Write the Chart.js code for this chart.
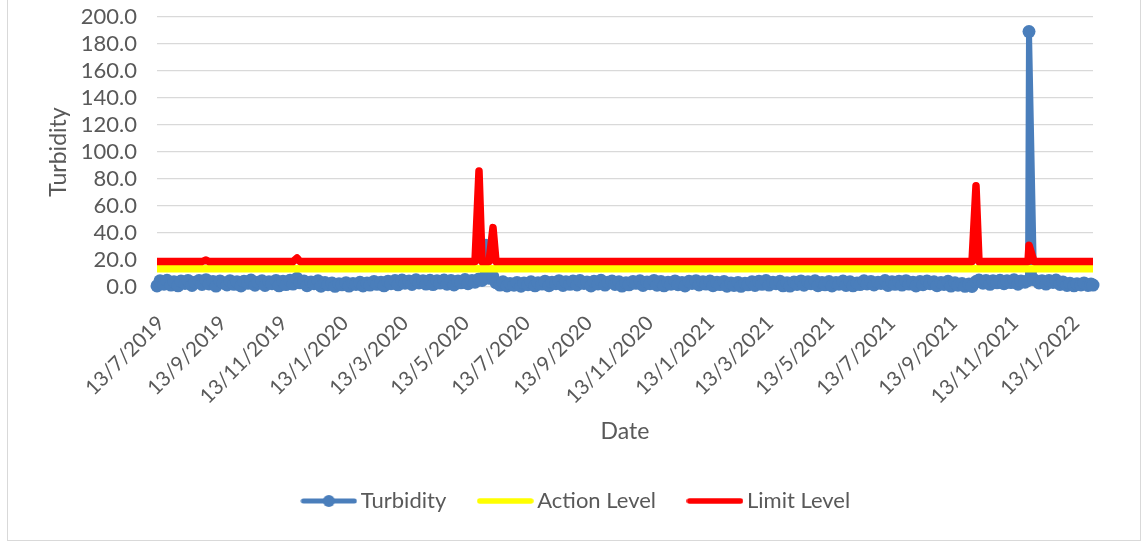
<!DOCTYPE html>
<html>
<head>
<meta charset="utf-8">
<script src="https://cdn.jsdelivr.net/npm/chart.js@4.4.1/dist/chart.umd.min.js"></script>
<style>
  html, body { margin: 0; padding: 0; background: #fff; }
  #wrap { position: relative; width: 1143px; height: 542px; overflow: hidden; }
  #frame { position: absolute; left: 7px; top: -2px; width: 1134px; height: 543px; border: 1px solid #d9d9d9; box-sizing: border-box; }
  canvas { position: absolute; left: 0; top: 0; }
</style>
</head>
<body>
<div id="wrap">
  <div id="frame"></div>
  <canvas id="chart" width="1143" height="542"></canvas>
</div>
<script>
// sample dates (d/m/yyyy)
const dates = [
  '13/7/2019', '16/7/2019', '20/7/2019', '23/7/2019', '27/7/2019', '30/7/2019', '3/8/2019', '6/8/2019', '10/8/2019', '13/8/2019',
  '17/8/2019', '20/8/2019', '24/8/2019', '27/8/2019', '31/8/2019', '3/9/2019', '7/9/2019', '10/9/2019', '14/9/2019', '17/9/2019',
  '21/9/2019', '24/9/2019', '28/9/2019', '1/10/2019', '5/10/2019', '8/10/2019', '12/10/2019', '15/10/2019', '19/10/2019', '22/10/2019',
  '26/10/2019', '29/10/2019', '2/11/2019', '5/11/2019', '9/11/2019', '12/11/2019', '16/11/2019', '19/11/2019', '23/11/2019', '26/11/2019',
  '30/11/2019', '3/12/2019', '7/12/2019', '10/12/2019', '14/12/2019', '17/12/2019', '21/12/2019', '24/12/2019', '28/12/2019', '31/12/2019',
  '4/1/2020', '7/1/2020', '11/1/2020', '14/1/2020', '18/1/2020', '21/1/2020', '25/1/2020', '28/1/2020', '1/2/2020', '4/2/2020',
  '8/2/2020', '11/2/2020', '15/2/2020', '18/2/2020', '22/2/2020', '25/2/2020', '29/2/2020', '3/3/2020', '7/3/2020', '10/3/2020',
  '14/3/2020', '17/3/2020', '21/3/2020', '24/3/2020', '28/3/2020', '31/3/2020', '4/4/2020', '7/4/2020', '11/4/2020', '14/4/2020',
  '18/4/2020', '21/4/2020', '25/4/2020', '28/4/2020', '2/5/2020', '5/5/2020', '9/5/2020', '12/5/2020', '16/5/2020', '19/5/2020',
  '23/5/2020', '26/5/2020', '30/5/2020', '2/6/2020', '6/6/2020', '9/6/2020', '13/6/2020', '16/6/2020', '20/6/2020', '23/6/2020',
  '27/6/2020', '30/6/2020', '4/7/2020', '7/7/2020', '11/7/2020', '14/7/2020', '18/7/2020', '21/7/2020', '25/7/2020', '28/7/2020',
  '1/8/2020', '4/8/2020', '8/8/2020', '11/8/2020', '15/8/2020', '18/8/2020', '22/8/2020', '25/8/2020', '29/8/2020', '1/9/2020',
  '5/9/2020', '8/9/2020', '12/9/2020', '15/9/2020', '19/9/2020', '22/9/2020', '26/9/2020', '29/9/2020', '3/10/2020', '6/10/2020',
  '10/10/2020', '13/10/2020', '17/10/2020', '20/10/2020', '24/10/2020', '27/10/2020', '31/10/2020', '3/11/2020', '7/11/2020', '10/11/2020',
  '14/11/2020', '17/11/2020', '21/11/2020', '24/11/2020', '28/11/2020', '1/12/2020', '5/12/2020', '8/12/2020', '12/12/2020', '15/12/2020',
  '19/12/2020', '22/12/2020', '26/12/2020', '29/12/2020', '2/1/2021', '5/1/2021', '9/1/2021', '12/1/2021', '16/1/2021', '19/1/2021',
  '23/1/2021', '26/1/2021', '30/1/2021', '2/2/2021', '6/2/2021', '9/2/2021', '13/2/2021', '16/2/2021', '20/2/2021', '23/2/2021',
  '27/2/2021', '2/3/2021', '6/3/2021', '9/3/2021', '13/3/2021', '16/3/2021', '20/3/2021', '23/3/2021', '27/3/2021', '30/3/2021',
  '3/4/2021', '6/4/2021', '10/4/2021', '13/4/2021', '17/4/2021', '20/4/2021', '24/4/2021', '27/4/2021', '1/5/2021', '4/5/2021',
  '8/5/2021', '11/5/2021', '15/5/2021', '18/5/2021', '22/5/2021', '25/5/2021', '29/5/2021', '1/6/2021', '5/6/2021', '8/6/2021',
  '12/6/2021', '15/6/2021', '19/6/2021', '22/6/2021', '26/6/2021', '29/6/2021', '3/7/2021', '6/7/2021', '10/7/2021', '13/7/2021',
  '17/7/2021', '20/7/2021', '24/7/2021', '27/7/2021', '31/7/2021', '3/8/2021', '7/8/2021', '10/8/2021', '14/8/2021', '17/8/2021',
  '21/8/2021', '24/8/2021', '28/8/2021', '31/8/2021', '4/9/2021', '7/9/2021', '11/9/2021', '14/9/2021', '18/9/2021', '21/9/2021',
  '25/9/2021', '28/9/2021', '2/10/2021', '5/10/2021', '9/10/2021', '12/10/2021', '16/10/2021', '19/10/2021', '23/10/2021', '26/10/2021',
  '30/10/2021', '2/11/2021', '6/11/2021', '9/11/2021', '13/11/2021', '16/11/2021', '20/11/2021', '23/11/2021', '27/11/2021', '30/11/2021',
  '1/12/2021', '6/12/2021', '11/12/2021', '14/12/2021', '18/12/2021', '21/12/2021', '25/12/2021', '28/12/2021', '1/1/2022', '4/1/2022',
  '8/1/2022', '11/1/2022', '15/1/2022', '18/1/2022', '22/1/2022', '25/1/2022', '29/1/2022', '1/2/2022', '3/2/2022'
];

const turbidity = [
  0.8, 4.6, 2.1, 5.0, 1.4, 3.8, 0.9, 4.4, 2.6, 4.9,
  1.2, 3.6, 4.8, 1.9, 5.4, 2.3, 4.1, 0.7, 4.5, 3.0,
  1.5, 4.7, 2.0, 3.9, 0.8, 4.3, 2.7, 5.1, 1.3, 3.5,
  4.6, 1.1, 3.8, 2.4, 4.9, 0.9, 4.2, 1.8, 5.0, 2.2,
  6.5, 3.1, 4.4, 1.0, 3.7, 2.5, 4.6, 0.6, 3.3, 1.7,
  2.9, 0.5, 2.4, 1.6, 3.2, 0.7, 2.6, 1.9, 3.5, 0.8,
  3.0, 1.4, 4.1, 2.0, 3.6, 0.9, 4.3, 2.5, 4.8, 1.6,
  5.1, 2.8, 4.5, 1.9, 5.3, 3.0, 4.7, 2.2, 5.0, 1.8,
  4.6, 2.9, 5.2, 2.1, 4.9, 1.5, 4.4, 3.1, 5.5, 2.4,
  4.8, 3.6, 6.0, 4.9, 31.0, 6.5, 7.5, 3.2, 1.4, 3.9,
  0.8, 2.6, 1.3, 3.4, 0.6, 2.9, 1.7, 3.8, 0.9, 3.1,
  2.2, 4.3, 1.0, 3.6, 2.5, 4.7, 1.2, 3.9, 2.0, 4.4,
  1.5, 4.8, 2.6, 3.7, 0.8, 4.2, 2.3, 5.0, 1.4, 3.5,
  4.4, 1.9, 3.8, 0.7, 3.2, 1.6, 4.1, 2.7, 4.6, 1.1,
  3.7, 2.4, 4.9, 1.3, 4.0, 0.9, 3.6, 2.1, 4.5, 1.7,
  3.3, 0.8, 4.2, 2.6, 4.7, 1.5, 3.9, 2.2, 4.4, 1.0,
  3.5, 1.8, 4.1, 0.6, 2.9, 1.2, 3.4, 0.5, 2.7, 1.6,
  3.8, 1.1, 4.3, 2.0, 4.8, 1.4, 3.6, 2.5, 4.2, 0.9,
  3.1, 0.7, 3.7, 1.9, 4.5, 1.3, 3.9, 2.4, 4.6, 1.0,
  3.4, 1.6, 4.0, 0.8, 3.3, 2.1, 4.4, 1.2, 3.8, 0.9,
  3.0, 1.8, 4.6, 2.3, 4.1, 1.5, 3.5, 2.6, 4.8, 1.1,
  3.9, 2.0, 4.3, 1.4, 4.7, 2.2, 3.6, 0.8, 4.0, 1.7,
  4.5, 2.5, 3.8, 1.0, 3.4, 1.9, 4.2, 0.7, 3.1, 1.3,
  2.6, 0.5, 2.2, 0.4, 4.0, 5.2, 2.8, 4.9, 2.0, 4.6,
  3.1, 5.0, 2.4, 4.7, 3.3, 5.3, 2.1, 4.5, 3.6, 4.8,
  189.2, 5.4, 3.0, 4.6, 2.2, 4.9, 3.4, 5.1, 1.9, 3.7,
  1.2, 2.8, 0.9, 2.4, 1.5, 3.0, 1.1, 2.2, 1.4
];

const actionLevel = [
  13.5, 13.5, 13.5, 13.5, 13.5, 13.5, 13.5, 13.5, 13.5, 13.5,
  13.5, 13.5, 13.5, 13.5, 13.5, 13.5, 13.5, 13.5, 13.5, 13.5,
  13.5, 13.5, 13.5, 13.5, 13.5, 13.5, 13.5, 13.5, 13.5, 13.5,
  13.5, 13.5, 13.5, 13.5, 13.5, 13.5, 13.5, 13.5, 13.5, 13.5,
  13.5, 13.5, 13.5, 13.5, 13.5, 13.5, 13.5, 13.5, 13.5, 13.5,
  13.5, 13.5, 13.5, 13.5, 13.5, 13.5, 13.5, 13.5, 13.5, 13.5,
  13.5, 13.5, 13.5, 13.5, 13.5, 13.5, 13.5, 13.5, 13.5, 13.5,
  13.5, 13.5, 13.5, 13.5, 13.5, 13.5, 13.5, 13.5, 13.5, 13.5,
  13.5, 13.5, 13.5, 13.5, 13.5, 13.5, 13.5, 13.5, 13.5, 13.5,
  13.5, 13.5, 13.5, 13.5, 13.5, 13.5, 13.5, 13.5, 13.5, 13.5,
  13.5, 13.5, 13.5, 13.5, 13.5, 13.5, 13.5, 13.5, 13.5, 13.5,
  13.5, 13.5, 13.5, 13.5, 13.5, 13.5, 13.5, 13.5, 13.5, 13.5,
  13.5, 13.5, 13.5, 13.5, 13.5, 13.5, 13.5, 13.5, 13.5, 13.5,
  13.5, 13.5, 13.5, 13.5, 13.5, 13.5, 13.5, 13.5, 13.5, 13.5,
  13.5, 13.5, 13.5, 13.5, 13.5, 13.5, 13.5, 13.5, 13.5, 13.5,
  13.5, 13.5, 13.5, 13.5, 13.5, 13.5, 13.5, 13.5, 13.5, 13.5,
  13.5, 13.5, 13.5, 13.5, 13.5, 13.5, 13.5, 13.5, 13.5, 13.5,
  13.5, 13.5, 13.5, 13.5, 13.5, 13.5, 13.5, 13.5, 13.5, 13.5,
  13.5, 13.5, 13.5, 13.5, 13.5, 13.5, 13.5, 13.5, 13.5, 13.5,
  13.5, 13.5, 13.5, 13.5, 13.5, 13.5, 13.5, 13.5, 13.5, 13.5,
  13.5, 13.5, 13.5, 13.5, 13.5, 13.5, 13.5, 13.5, 13.5, 13.5,
  13.5, 13.5, 13.5, 13.5, 13.5, 13.5, 13.5, 13.5, 13.5, 13.5,
  13.5, 13.5, 13.5, 13.5, 13.5, 13.5, 13.5, 13.5, 13.5, 13.5,
  13.5, 13.5, 13.5, 13.5, 13.5, 13.5, 13.5, 13.5, 13.5, 13.5,
  13.5, 13.5, 13.5, 13.5, 13.5, 13.5, 13.5, 13.5, 13.5, 13.5,
  13.5, 13.5, 13.5, 13.5, 13.5, 13.5, 13.5, 13.5, 13.5, 13.5,
  13.5, 13.5, 13.5, 13.5, 13.5, 13.5, 13.5, 13.5, 13.5
];

const limitLevel = [
  18.8, 18.8, 18.8, 18.8, 18.8, 18.8, 18.8, 18.8, 18.8, 18.8,
  18.8, 18.8, 18.8, 18.8, 20.0, 18.8, 18.8, 18.8, 18.8, 18.8,
  18.8, 18.8, 18.8, 18.8, 18.8, 18.8, 18.8, 18.8, 18.8, 18.8,
  18.8, 18.8, 18.8, 18.8, 18.8, 18.8, 18.8, 18.8, 18.8, 18.8,
  21.5, 18.8, 18.8, 18.8, 18.8, 18.8, 18.8, 18.8, 18.8, 18.8,
  18.8, 18.8, 18.8, 18.8, 18.8, 18.8, 18.8, 18.8, 18.8, 18.8,
  18.8, 18.8, 18.8, 18.8, 18.8, 18.8, 18.8, 18.8, 18.8, 18.8,
  18.8, 18.8, 18.8, 18.8, 18.8, 18.8, 18.8, 18.8, 18.8, 18.8,
  18.8, 18.8, 18.8, 18.8, 18.8, 18.8, 18.8, 18.8, 18.8, 18.8,
  18.8, 18.8, 86.0, 18.8, 18.8, 18.8, 44.0, 18.8, 18.8, 18.8,
  18.8, 18.8, 18.8, 18.8, 18.8, 18.8, 18.8, 18.8, 18.8, 18.8,
  18.8, 18.8, 18.8, 18.8, 18.8, 18.8, 18.8, 18.8, 18.8, 18.8,
  18.8, 18.8, 18.8, 18.8, 18.8, 18.8, 18.8, 18.8, 18.8, 18.8,
  18.8, 18.8, 18.8, 18.8, 18.8, 18.8, 18.8, 18.8, 18.8, 18.8,
  18.8, 18.8, 18.8, 18.8, 18.8, 18.8, 18.8, 18.8, 18.8, 18.8,
  18.8, 18.8, 18.8, 18.8, 18.8, 18.8, 18.8, 18.8, 18.8, 18.8,
  18.8, 18.8, 18.8, 18.8, 18.8, 18.8, 18.8, 18.8, 18.8, 18.8,
  18.8, 18.8, 18.8, 18.8, 18.8, 18.8, 18.8, 18.8, 18.8, 18.8,
  18.8, 18.8, 18.8, 18.8, 18.8, 18.8, 18.8, 18.8, 18.8, 18.8,
  18.8, 18.8, 18.8, 18.8, 18.8, 18.8, 18.8, 18.8, 18.8, 18.8,
  18.8, 18.8, 18.8, 18.8, 18.8, 18.8, 18.8, 18.8, 18.8, 18.8,
  18.8, 18.8, 18.8, 18.8, 18.8, 18.8, 18.8, 18.8, 18.8, 18.8,
  18.8, 18.8, 18.8, 18.8, 18.8, 18.8, 18.8, 18.8, 18.8, 18.8,
  18.8, 18.8, 18.8, 18.8, 75.0, 18.8, 18.8, 18.8, 18.8, 18.8,
  18.8, 18.8, 18.8, 18.8, 18.8, 18.8, 18.8, 18.8, 18.8, 18.8,
  31.0, 18.8, 18.8, 18.8, 18.8, 18.8, 18.8, 18.8, 18.8, 18.8,
  18.8, 18.8, 18.8, 18.8, 18.8, 18.8, 18.8, 18.8, 18.8
];

const tickLabels = [
  '13/7/2019', '13/9/2019', '13/11/2019', '13/1/2020', '13/3/2020', '13/5/2020', '13/7/2020', '13/9/2020',
  '13/11/2020', '13/1/2021', '13/3/2021', '13/5/2021', '13/7/2021', '13/9/2021', '13/11/2021', '13/1/2022'
];

const textColor = '#595959';
const fontFamily = 'Lato, "Open Sans", sans-serif';
const blue = '#4a7ebb';

// day number from d/m/yyyy
function dayNum(s) {
  const [d, m, y] = s.split('/').map(Number);
  return Date.UTC(y, m - 1, d) / 86400000;
}
const day0 = dayNum(dates[0]);
const xs = dates.map(s => dayNum(s) - day0);
const tickDays = tickLabels.map(s => dayNum(s) - day0);
const toPoints = vals => vals.map((v, i) => ({ x: xs[i], y: v }));

// little pictures for the legend: line (+ marker)
function legendMark(color, lineW, marker) {
  const c = document.createElement('canvas');
  c.width = 57; c.height = 14;
  const g = c.getContext('2d');
  g.strokeStyle = color;
  g.lineWidth = lineW;
  g.lineCap = 'round';
  g.beginPath(); g.moveTo(3, 7); g.lineTo(54, 7); g.stroke();
  if (marker) {
    g.fillStyle = color;
    g.beginPath(); g.arc(28.5, 7, 6, 0, Math.PI * 2); g.fill();
  }
  return c;
}
const legendMarks = [legendMark(blue, 5, true), legendMark('#ffff00', 5.5, false), legendMark('#ff0000', 5.5, false)];

// nudge legend row to the right a little
const legendShift = {
  id: 'legendShift',
  afterLayout(chart) {
    chart.legend.left += 11;
    chart.legend.right += 11;
  }
};

new Chart(document.getElementById('chart'), {
  type: 'line',
  data: {
    datasets: [{
      label: 'Turbidity',
      data: toPoints(turbidity),
      borderColor: blue,
      backgroundColor: blue,
      borderWidth: 6,
      pointRadius: 6.5,
      pointBorderWidth: 0,
      pointBackgroundColor: blue,
      borderJoinStyle: 'round',
      clip: false,
      order: 3
    }, {
      label: 'Action Level',
      data: toPoints(actionLevel),
      borderColor: '#ffff00',
      borderWidth: 7.5,
      pointRadius: 0,
      borderJoinStyle: 'round',
      order: 2
    }, {
      label: 'Limit Level',
      data: toPoints(limitLevel),
      borderColor: '#ff0000',
      borderWidth: 7.5,
      pointRadius: 0,
      borderJoinStyle: 'round',
      order: 1
    }]
  },
  plugins: [legendShift],
  options: {
    responsive: false,
    animation: false,
    layout: { padding: { left: 43, right: 50, top: 17, bottom: 20 } },
    plugins: {
      tooltip: { enabled: false },
      legend: {
        position: 'bottom',
        labels: {
          usePointStyle: true,
          pointStyleWidth: 42,
          padding: 38,
          color: textColor,
          font: { family: fontFamily, size: 22 },
          generateLabels: chart => chart.data.datasets.map((ds, i) => ({
            text: ds.label,
            pointStyle: legendMarks[i],
            datasetIndex: i,
            hidden: false,
            fontColor: textColor,
            lineWidth: 0
          }))
        }
      }
    },
    scales: {
      x: {
        type: 'linear',
        min: 0,
        max: xs[xs.length - 1],
        afterBuildTicks: s => { s.ticks = tickDays.map(v => ({ value: v })); },
        afterFit: s => { s.height = 165; },
        grid: { display: false },
        border: { display: false },
        ticks: {
          autoSkip: false,
          minRotation: 45,
          maxRotation: 45,
          padding: 16,
          labelOffset: 4,
          color: textColor,
          font: { family: fontFamily, size: 20.5 },
          callback: (v, i) => tickLabels[i]
        },
        title: {
          display: true,
          text: 'Date',
          color: textColor,
          font: { family: fontFamily, size: 23 },
          padding: { top: 0, bottom: 7 }
        }
      },
      y: {
        min: 0,
        max: 200,
        afterFit: s => { s.width = 114; s.paddingTop = 0; s.paddingBottom = 0; },
        grid: { color: '#d9d9d9', lineWidth: 1.2, drawTicks: false },
        border: { display: false },
        ticks: {
          autoSkip: false,
          stepSize: 20,
          padding: 20,
          color: textColor,
          font: { family: fontFamily, size: 22 },
          callback: v => v.toFixed(1)
        },
        title: {
          display: true,
          text: 'Turbidity',
          color: textColor,
          font: { family: fontFamily, size: 23 },
          padding: 2
        }
      }
    }
  }
});
</script>
</body>
</html>
